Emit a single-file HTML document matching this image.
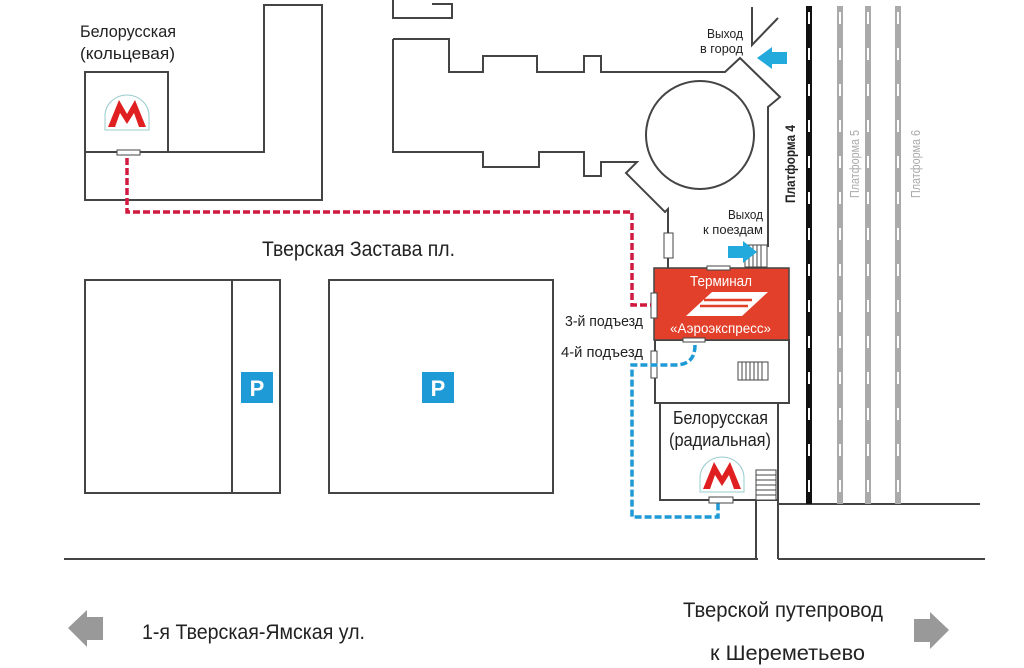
<!DOCTYPE html>
<html><head><meta charset="utf-8"><style>
html,body{margin:0;padding:0;background:#fff;}
svg{display:block}
text{font-family:"Liberation Sans",sans-serif;}
</style></head><body>
<svg width="1024" height="668" viewBox="0 0 1024 668" xmlns="http://www.w3.org/2000/svg">
<g fill="none" stroke="#444" stroke-width="2">
 <rect x="85" y="72" width="83" height="80"/>
 <polyline points="85,152 85,200 322,200 322,5 264,5 264,152 168,152"/>
 <polyline points="393,0 393,18 452,18 452,4 432,4"/>
 <polyline points="393,39 449,39 449,72 483,72 483,56 537,56 537,72 584,72 584,56 601,56 601,72 725,72 740,58 780,97 768,107 768,247"/>
 <polyline points="393,39 393,152 483,152 483,167 539,167 539,152 584,152 584,176 601,176 601,162 637,162 626,173 665,212 668,209 668,268"/>
 <polyline points="752,7 752,45 778,18"/>
 <circle cx="700" cy="135" r="54"/>
 <rect x="85" y="280" width="195" height="213"/>
 <line x1="232" y1="280" x2="232" y2="493"/>
 <rect x="329" y="280" width="224" height="213"/>
 <rect x="655" y="340" width="134" height="63"/>
 <polyline points="660,403 660,500 778,500 778,403"/>
 <line x1="778" y1="500" x2="778" y2="559"/>
 <line x1="756" y1="500" x2="756" y2="559"/>
 <line x1="64" y1="559" x2="758" y2="559"/>
 <line x1="778" y1="559" x2="985" y2="559"/>
 <line x1="778" y1="504" x2="980" y2="504"/>
</g>
<g stroke="#444" stroke-width="1" fill="#fff">
 <rect x="664" y="233" width="9" height="25"/>
 <rect x="738" y="362" width="30" height="18"/>
 <path d="M742,362v18M746,362v18M750,362v18M754,362v18M758,362v18M762,362v18"/>
 <rect x="756" y="470" width="20" height="30"/>
 <path d="M756,475h20M756,480h20M756,485h20M756,490h20M756,495h20"/>
 <rect x="745" y="245" width="22" height="22"/>
 <path d="M749,245v22M753,245v22M757,245v22M761,245v22"/>
</g>
<line x1="809" y1="6" x2="809" y2="504" stroke="#111" stroke-width="6"/>
<line x1="809" y1="12" x2="809" y2="504" stroke="#fff" stroke-width="2" stroke-dasharray="12,24"/>
<g stroke="#aaa" stroke-width="6">
 <line x1="840" y1="6" x2="840" y2="504"/><line x1="868" y1="6" x2="868" y2="504"/><line x1="898" y1="6" x2="898" y2="504"/>
</g>
<g stroke="#fff" stroke-width="2" stroke-dasharray="12,24">
 <line x1="840" y1="12" x2="840" y2="504"/><line x1="868" y1="12" x2="868" y2="504"/><line x1="898" y1="12" x2="898" y2="504"/>
</g>
<rect x="654" y="268" width="135" height="72" fill="#e2402a" stroke="#444" stroke-width="1.5"/>
<text x="690" y="286" fill="#fff" font-size="15" textLength="62" lengthAdjust="spacingAndGlyphs">Терминал</text>
<path d="M686,316 L712,292 L768,292 L742,316 Z" fill="#fff"/>
<path d="M704,300 L752,300 M700,306 L748,306" stroke="#e2402a" stroke-width="2.5"/>
<text x="670" y="333" fill="#fff" font-size="14" textLength="101" lengthAdjust="spacingAndGlyphs">«Аэроэкспресс»</text>
<g fill="#fff" stroke="#444" stroke-width="1">
 <rect x="117" y="150" width="23" height="5"/>
 <rect x="651" y="293" width="6" height="25"/>
 <rect x="651" y="351" width="6" height="27"/>
 <rect x="707" y="266" width="23" height="4"/>
 <rect x="683" y="338" width="22" height="4"/>
 <rect x="709" y="497" width="24" height="6"/>
</g>
<polyline points="127,158 127,212 632,212 632,305 651,305" fill="none" stroke="#d11a40" stroke-width="3.5" stroke-dasharray="7,3"/>
<path d="M695,345 Q695,365 675,365 L632,365 L632,517 L718,517 L718,503" fill="none" stroke="#1e9ad6" stroke-width="3.5" stroke-dasharray="7,3"/>
<path d="M787,52 L772,52 L772,47 L757,58 L772,69 L772,64 L787,64 Z" fill="#22aadd"/>
<path d="M728,246 L743,246 L743,241 L757,252 L743,263 L743,258 L728,258 Z" fill="#22aadd"/>
<g>
 <path d="M105,130 L105,116 A22,21 0 0 1 149,116 L149,130 Z" fill="#fff" stroke="#9cc" stroke-width="1"/>
 <path d="M108,127 L119,100 L127,114 L135,100 L146,127 L139,127 L134,113 L127,124 L120,113 L115,127 Z" fill="#e02020"/>
 <path d="M700,492 L700,478 A22,21 0 0 1 744,478 L744,492 Z" fill="#fff" stroke="#9cc" stroke-width="1"/>
 <path d="M703,489 L714,462 L722,476 L730,462 L741,489 L734,489 L729,475 L722,486 L715,475 L710,489 Z" fill="#e02020"/>
</g>
<rect x="241" y="372" width="32" height="31" fill="#1e9ad6"/>
<text x="257" y="396" font-size="22" font-weight="bold" fill="#fff" text-anchor="middle">P</text>
<rect x="422" y="372" width="32" height="31" fill="#1e9ad6"/>
<text x="438" y="396" font-size="22" font-weight="bold" fill="#fff" text-anchor="middle">P</text>
<g fill="#222">
 <text x="80" y="37" font-size="17" textLength="96" lengthAdjust="spacingAndGlyphs">Белорусская</text>
 <text x="80" y="59" font-size="17" textLength="95" lengthAdjust="spacingAndGlyphs">(кольцевая)</text>
 <text x="262" y="256" font-size="21" textLength="193" lengthAdjust="spacingAndGlyphs">Тверская Застава пл.</text>
 <text x="707" y="38" font-size="13" textLength="36" lengthAdjust="spacingAndGlyphs">Выход</text>
 <text x="700" y="53" font-size="13" textLength="43" lengthAdjust="spacingAndGlyphs">в город</text>
 <text x="728" y="219" font-size="13" textLength="35" lengthAdjust="spacingAndGlyphs">Выход</text>
 <text x="703" y="234" font-size="13" textLength="60" lengthAdjust="spacingAndGlyphs">к поездам</text>
 <text x="565" y="326" font-size="15" textLength="78" lengthAdjust="spacingAndGlyphs">3-й подъезд</text>
 <text x="561" y="357" font-size="15" textLength="82" lengthAdjust="spacingAndGlyphs">4-й подъезд</text>
 <text x="673" y="424" font-size="18" textLength="95" lengthAdjust="spacingAndGlyphs">Белорусская</text>
 <text x="669" y="446" font-size="18" textLength="102" lengthAdjust="spacingAndGlyphs">(радиальная)</text>
 <text transform="translate(795,203) rotate(-90)" font-size="14" font-weight="bold" textLength="78" lengthAdjust="spacingAndGlyphs">Платформа 4</text>
 <text transform="translate(859,198) rotate(-90)" font-size="13" fill="#aaa" textLength="68" lengthAdjust="spacingAndGlyphs">Платформа 5</text>
 <text transform="translate(920,198) rotate(-90)" font-size="13" fill="#aaa" textLength="68" lengthAdjust="spacingAndGlyphs">Платформа 6</text>
 <text x="142" y="639" font-size="21" textLength="223" lengthAdjust="spacingAndGlyphs">1-я Тверская-Ямская ул.</text>
 <text x="683" y="617" font-size="21" textLength="200" lengthAdjust="spacingAndGlyphs">Тверской путепровод</text>
 <text x="710" y="660" font-size="21" textLength="155" lengthAdjust="spacingAndGlyphs">к Шереметьево</text>
</g>
<path d="M68,628 L87,610 L87,617 L103,617 L103,640 L87,640 L87,647 Z" fill="#999"/>
<path d="M949,630 L930,612 L930,619 L914,619 L914,642 L930,642 L930,649 Z" fill="#999"/>
</svg>
</body></html>
